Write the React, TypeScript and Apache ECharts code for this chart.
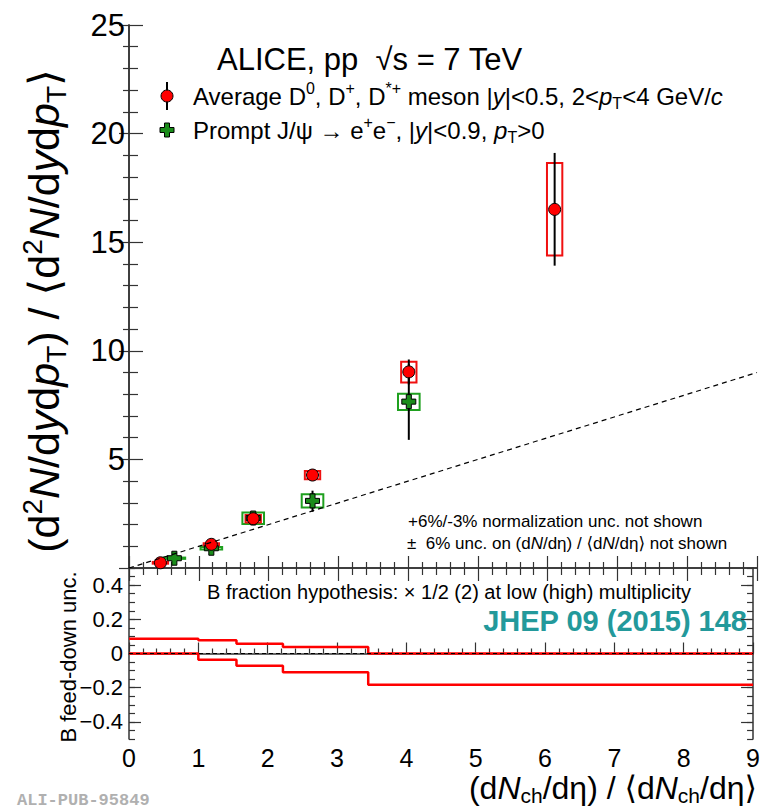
import React, { useEffect, useRef } from "react";
import * as echarts from "echarts";

// ---------- data ----------
// D mesons (average D0, D+, D*+)
const dX = [0.45, 1.18, 1.78, 2.63, 4.01, 6.1];
const dY = [0.24, 1.09, 2.27, 4.28, 9.03, 16.51];
const dStatLo = [0.18, 1.02, 2.07, 4.15, 8.45, 13.92];
const dStatHi = [0.3, 1.16, 2.47, 4.41, 9.6, 19.11];
const dSysLo = [0.2, 1.04, 2.1, 4.09, 8.54, 14.39];
const dSysHi = [0.28, 1.14, 2.44, 4.47, 9.5, 18.65];

// Prompt J/psi
const jX = [0.65, 1.18, 1.78, 2.63, 4.01];
const jY = [0.45, 0.91, 2.3, 3.09, 7.66];
const jStatLo = [0.38, 0.7, 1.98, 2.59, 5.9];
const jStatHi = [0.52, 1.1, 2.59, 3.56, 9.4];
const jSysLo = [0.42, 0.85, 2.03, 2.78, 7.28];
const jSysHi = [0.48, 0.97, 2.55, 3.4, 8.02];

// B feed-down uncertainty (lower panel), per multiplicity bin
const bEdges = [0, 1.0, 1.55, 2.22, 3.45, 9];
const bUpper = [0.086, 0.077, 0.057, 0.038, 0.0];
const bLower = [0.0, -0.036, -0.071, -0.109, -0.183];

// reference diagonal y = x
const diagX = [0, 9];
const diagY = [0, 9];
const zeroX = [0, 9];

// tick labels
const xTickLabels = [0, 1, 2, 3, 4, 5, 6, 7, 8, 9];
const topYTickLabels = [5, 10, 15, 20, 25];
const lowYTickLabels = [-0.4, -0.2, 0, 0.2, 0.4];

// ---------- styles ----------
const FONT = "'Liberation Sans', Arial, Helvetica, 'DejaVu Sans', sans-serif";
const AX = "#333333";
const D_BOX_HW = 0.11;
const J_BOX_HW = 0.155;

function stepPoints(edges: number[], vals: number[]) {
  const pts: number[][] = [];
  vals.forEach((v, i) => {
    pts.push([edges[i], v]);
    pts.push([edges[i + 1], v]);
  });
  return pts;
}

const boxSeries = (name: string, xs: number[], lo: number[], hi: number[], hw: number, color: string) => ({
  name,
  type: "custom",
  xAxisIndex: 0,
  yAxisIndex: 0,
  encode: { x: [0, 1], y: [2, 3] },
  data: xs.map((x, i) => [x - hw, x + hw, lo[i], hi[i]]),
  renderItem: (_p: any, api: any) => {
    const a = api.coord([api.value(0), api.value(3)]);
    const b = api.coord([api.value(1), api.value(2)]);
    return {
      type: "rect",
      shape: { x: a[0], y: a[1], width: b[0] - a[0], height: Math.max(b[1] - a[1], 1) },
      style: { fill: "none", stroke: color, lineWidth: 2 },
    };
  },
});

const errSeries = (name: string, xs: number[], lo: number[], hi: number[]) => ({
  name,
  type: "custom",
  xAxisIndex: 0,
  yAxisIndex: 0,
  encode: { x: 0, y: [1, 2] },
  data: xs.map((x, i) => [x, lo[i], hi[i]]),
  renderItem: (_p: any, api: any) => {
    const a = api.coord([api.value(0), api.value(1)]);
    const b = api.coord([api.value(0), api.value(2)]);
    return {
      type: "line",
      shape: { x1: a[0], y1: a[1], x2: b[0], y2: b[1] },
      style: { stroke: "#000", lineWidth: 2 },
    };
  },
});

const CROSS = "path://M3.2,0H6.8V3.2H10V6.8H6.8V10H3.2V6.8H0V3.2H3.2Z";

const axLine = { show: true, lineStyle: { color: AX, width: 1.5 } };

function buildOption(): any {
  const grids = [
    { left: 129, top: 25, width: 628, height: 543 },
    { left: 129, top: 568, width: 628, height: 171 },
  ];
  const xAxes = [
    {
      gridIndex: 0, type: "value", position: "bottom", min: 0, max: 9, interval: 1,
      axisLine: axLine, axisLabel: { show: false }, splitLine: { show: false },
      axisTick: { inside: true, length: 12, lineStyle: { color: AX, width: 1.2 } },
      minorTick: { show: true, splitNumber: 5, length: 6, lineStyle: { color: AX, width: 1.2 } },
    },
    {
      gridIndex: 0, type: "value", position: "top", min: 0, max: 9, interval: 1,
      axisLine: axLine, axisLabel: { show: false }, splitLine: { show: false },
      axisTick: { inside: true, length: 13, lineStyle: { color: AX, width: 1.2 } },
      minorTick: { show: true, splitNumber: 5, length: 7, lineStyle: { color: AX, width: 1.2 } },
    },
    {
      gridIndex: 1, type: "value", position: "bottom", min: 0, max: 9, interval: 1,
      axisLine: axLine, splitLine: { show: false },
      axisLabel: {
        show: true, margin: 6, fontSize: 25, color: "#000", fontFamily: FONT,
        formatter: (v: number) => (xTickLabels.includes(v) ? String(v) : ""),
      },
      axisTick: { inside: true, length: 11, lineStyle: { color: AX, width: 1.2 } },
      minorTick: { show: true, splitNumber: 5, length: 5, lineStyle: { color: AX, width: 1.2 } },
    },
  ];
  const yAxes = [
    {
      gridIndex: 0, type: "value", position: "left", min: 0, max: 25, interval: 5,
      axisLine: axLine, splitLine: { show: false },
      axisLabel: {
        show: true, margin: 4, fontSize: 31, color: "#000", fontFamily: FONT,
        formatter: (v: number) => (topYTickLabels.includes(v) ? String(v) : ""),
      },
      axisTick: { inside: true, length: 14, lineStyle: { color: AX, width: 1.2 } },
      minorTick: { show: true, splitNumber: 5, length: 9, lineStyle: { color: AX, width: 1.2 } },
    },
    {
      gridIndex: 0, type: "value", position: "right", min: 0, max: 25, interval: 5,
      axisLine: axLine, splitLine: { show: false }, axisLabel: { show: false },
      axisTick: { inside: true, length: 10, lineStyle: { color: AX, width: 1.2 } },
      minorTick: { show: true, splitNumber: 5, length: 6, lineStyle: { color: AX, width: 1.2 } },
    },
    {
      gridIndex: 1, type: "value", position: "left", min: -0.5, max: 0.5, interval: 0.05,
      axisLine: axLine, splitLine: { show: false }, axisLabel: { show: false },
      axisTick: { inside: true, length: 6, lineStyle: { color: AX, width: 1.2 } },
    },
    {
      gridIndex: 1, type: "value", position: "left", min: -0.5, max: 0.5,
      axisLine: { show: false }, splitLine: { show: false },
      axisLabel: {
        show: true, margin: 6, fontSize: 22, color: "#000", fontFamily: FONT,
        customValues: lowYTickLabels,
        formatter: (v: number) => (Math.abs(v) < 1e-9 ? "0" : v < 0 ? "\u2212" + String(Math.abs(v)) : String(v)),
      },
      axisTick: { show: true, inside: true, length: 12, customValues: lowYTickLabels, lineStyle: { color: AX, width: 1.2 } },
    },
    {
      gridIndex: 1, type: "value", position: "right", min: -0.5, max: 0.5, interval: 0.05,
      axisLine: axLine, splitLine: { show: false }, axisLabel: { show: false },
      axisTick: { inside: true, length: 6, lineStyle: { color: AX, width: 1.2 } },
    },
    {
      gridIndex: 1, type: "value", position: "right", min: -0.5, max: 0.5,
      axisLine: { show: false }, splitLine: { show: false }, axisLabel: { show: false },
      axisTick: { show: true, inside: true, length: 12, customValues: lowYTickLabels, lineStyle: { color: AX, width: 1.2 } },
    },
  ];

  const series: any[] = [
    {
      name: "diag", type: "line", xAxisIndex: 0, yAxisIndex: 0, symbol: "none", silent: true,
      data: diagX.map((x, i) => [x, diagY[i]]),
      lineStyle: { color: "#000", width: 1.2, type: [5, 4] },
    },
    boxSeries("jpsiSys", jX, jSysLo, jSysHi, J_BOX_HW, "#1fa01f"),
    boxSeries("dSys", dX, dSysLo, dSysHi, D_BOX_HW, "#f01010"),
    errSeries("jpsiStat", jX, jStatLo, jStatHi),
    errSeries("dStat", dX, dStatLo, dStatHi),
    {
      name: "jpsi", type: "scatter", xAxisIndex: 0, yAxisIndex: 0,
      symbol: CROSS, symbolSize: 14,
      itemStyle: { color: "#1a8c1a", borderColor: "#000", borderWidth: 1, opacity: 1 },
      data: jX.map((x, i) => [x, jY[i]]),
    },
    {
      name: "dmeson", type: "scatter", xAxisIndex: 0, yAxisIndex: 0,
      symbol: "circle", symbolSize: 12,
      itemStyle: { color: "#ff0000", borderColor: "#000", borderWidth: 1, opacity: 1 },
      data: dX.map((x, i) => [x, dY[i]]),
    },
    {
      name: "bUp", type: "line", xAxisIndex: 2, yAxisIndex: 2, symbol: "none",
      data: stepPoints(bEdges, bUpper), lineStyle: { color: "#ff0000", width: 2.5 },
    },
    {
      name: "bLow", type: "line", xAxisIndex: 2, yAxisIndex: 2, symbol: "none",
      data: stepPoints(bEdges, bLower), lineStyle: { color: "#ff0000", width: 2.5 },
    },
    {
      name: "zero", type: "line", xAxisIndex: 2, yAxisIndex: 2, symbol: "none",
      data: zeroX.map((x) => [x, 0]), lineStyle: { color: "#000", width: 1, type: [4, 3] },
    },
  ];

  const sup = (fs: number, p: number) => ({ fontSize: fs, fontFamily: FONT, fill: "#000", padding: [0, 0, p, 0] });
  const sub = (fs: number, p: number) => ({ fontSize: fs, fontFamily: FONT, fill: "#000", padding: [p, 0, 0, 0] });
  const ital = (fs: number) => ({ fontSize: fs, fontFamily: FONT, fontStyle: "italic", fill: "#000" });

  const legRich = { sup: sup(16, 15), sub: sub(16, 15), i: ital(24) };
  const smallRich = { i: ital(17) };
  const yTitleRich = { sup: sup(28, 24), sub: sub(28, 24), i: ital(43) };
  const xTitleRich = { sub: sub(21, 14), i: ital(32) };

  const graphic: any[] = [
    {
      type: "text", x: 217, y: 59,
      style: { text: "ALICE, pp  \u221As = 7 TeV", fontSize: 31, fontFamily: FONT, fill: "#000", verticalAlign: "middle" },
    },
    { type: "line", shape: { x1: 167, y1: 82, x2: 167, y2: 110 }, style: { stroke: "#000", lineWidth: 2 } },
    { type: "circle", shape: { cx: 167, cy: 96, r: 6 }, style: { fill: "#ff0000", stroke: "#000", lineWidth: 1 } },
    {
      type: "polygon",
      shape: {
        points: [
          [164.5, 123], [169.5, 123], [169.5, 127.5], [174, 127.5], [174, 132.5], [169.5, 132.5],
          [169.5, 137], [164.5, 137], [164.5, 132.5], [160, 132.5], [160, 127.5], [164.5, 127.5],
        ],
      },
      style: { fill: "#1a8c1a", stroke: "#000", lineWidth: 1 },
    },
    {
      type: "text", x: 193, y: 96,
      style: {
        text: "Average D{sup|0}, D{sup|+}, D{sup|*+} meson |{i|y}|<0.5, 2<{i|p}{sub|T}<4 GeV/{i|c}",
        rich: legRich, fontSize: 24, fontFamily: FONT, fill: "#000", verticalAlign: "middle",
      },
    },
    {
      type: "text", x: 193, y: 130,
      style: {
        text: "Prompt J/\u03C8 \u2192 e{sup|+}e{sup|\u2212}, |{i|y}|<0.9, {i|p}{sub|T}>0",
        rich: legRich, fontSize: 24, fontFamily: FONT, fill: "#000", verticalAlign: "middle",
      },
    },
    {
      type: "text", x: 408, y: 521,
      style: { text: "+6%/-3% normalization unc. not shown", fontSize: 17, fontFamily: FONT, fill: "#000", verticalAlign: "middle" },
    },
    {
      type: "text", x: 407, y: 543,
      style: {
        text: "\u00B1  6% unc. on (d{i|N}/d\u03B7) / \u27E8d{i|N}/d\u03B7\u27E9 not shown",
        rich: smallRich, fontSize: 17, fontFamily: FONT, fill: "#000", verticalAlign: "middle",
      },
    },
    {
      type: "text", x: 207, y: 592,
      style: { text: "B fraction hypothesis: \u00D7 1/2 (2) at low (high) multiplicity", fontSize: 20, fontFamily: FONT, fill: "#000", verticalAlign: "middle" },
    },
    {
      type: "text", x: 747, y: 621,
      style: { text: "JHEP 09 (2015) 148", fontSize: 29, fontWeight: "bold", fontFamily: FONT, fill: "#23999b", align: "right", verticalAlign: "middle" },
    },
    {
      type: "text", x: 44, y: 311, rotation: Math.PI / 2,
      style: {
        text: "(d{sup|2}{i|N}/d{i|y}d{i|p}{sub|T}) / \u27E8d{sup|2}{i|N}/d{i|y}d{i|p}{sub|T}\u27E9",
        rich: yTitleRich, fontSize: 43, fontFamily: FONT, fill: "#000", align: "center", verticalAlign: "middle",
      },
    },
    {
      type: "text", x: 68, y: 657, rotation: Math.PI / 2,
      style: { text: "B feed-down unc.", fontSize: 22, fontFamily: FONT, fill: "#000", align: "center", verticalAlign: "middle" },
    },
    {
      type: "text", x: 757, y: 788,
      style: {
        text: "(d{i|N}{sub|ch}/d\u03B7) / \u27E8d{i|N}{sub|ch}/d\u03B7\u27E9",
        rich: xTitleRich, fontSize: 32, fontFamily: FONT, fill: "#000", align: "right", verticalAlign: "middle",
      },
    },
    {
      type: "text", x: 17, y: 800,
      style: { text: "ALI-PUB-95849", fontSize: 17, fontWeight: "bold", fontFamily: "'Liberation Mono', 'DejaVu Sans Mono', monospace", fill: "#b0b0b0", verticalAlign: "middle" },
    },
  ];

  return {
    animation: false,
    backgroundColor: "#ffffff",
    textStyle: { fontFamily: FONT },
    grid: grids,
    xAxis: xAxes,
    yAxis: yAxes,
    series,
    graphic,
  };
}

export default function App() {
  const ref = useRef<HTMLDivElement>(null);
  useEffect(() => {
    if (!ref.current) return;
    const chart = echarts.init(ref.current, undefined, { renderer: "svg" });
    chart.setOption(buildOption());
    return () => chart.dispose();
  }, []);
  return (
    <div
      ref={ref}
      style={{ position: "fixed", left: 0, top: 0, width: 763, height: 811, background: "#fff" }}
    />
  );
}
